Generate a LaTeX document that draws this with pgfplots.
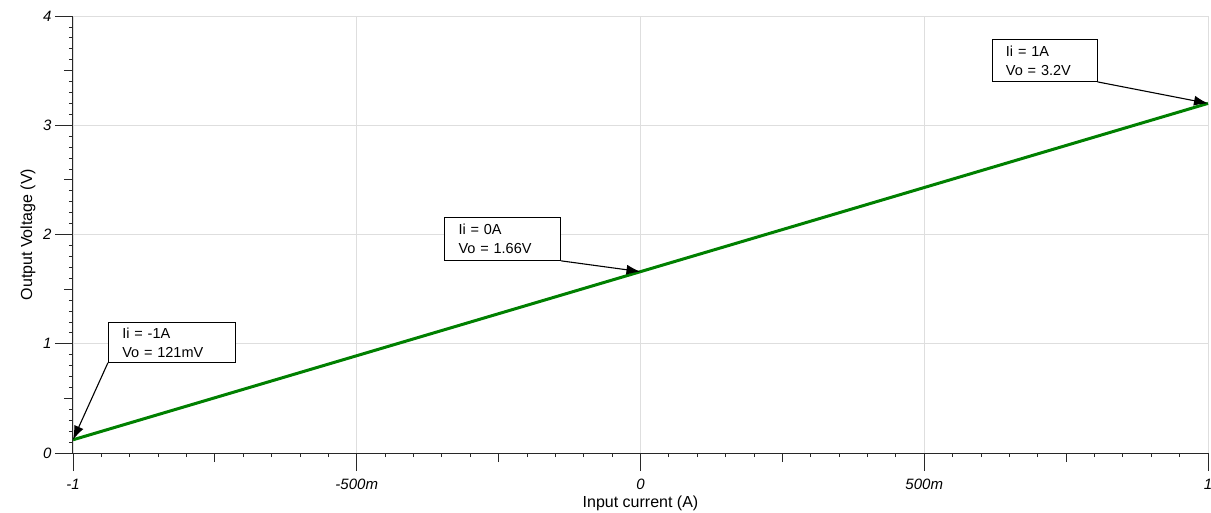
\documentclass[border=0pt]{standalone}
\usepackage{fontspec}
\setmainfont{Liberation Sans}
\usepackage{pgfplots}
\pgfplotsset{compat=1.18}
\usetikzlibrary{calc,arrows.meta}
\definecolor{linegreen}{RGB}{0,128,0}
\definecolor{gridgray}{RGB}{222,222,222}
\definecolor{axisgray}{RGB}{40,40,40}
\begin{document}
\begin{tikzpicture}
\begin{axis}[
  name=ax,
  scale only axis,
  width=1135pt, height=437pt,
  xmin=-1, xmax=1, ymin=0, ymax=4,
  axis lines=left,
  axis line style={-, axisgray, line width=1pt},
  xtick={-1,-0.5,0,0.5,1},
  xticklabels={-1,-500m,0,500m,1},
  ytick={0,1,2,3,4},
  yticklabels={0,1,2,3,4},
  minor x tick num=9,
  minor y tick num=9,
  tick align=outside,
  tick pos=left,
  major tick length=18pt,
  minor tick length=4pt,
  tick style={axisgray, line width=0.9pt},
  minor tick style={axisgray, line width=0.8pt},
  extra x ticks={-0.75,-0.25,0.25,0.75},
  extra y ticks={0.5,1.5,2.5,3.5},
  extra x tick labels={},
  extra y tick labels={},
  extra tick style={grid=none, /pgfplots/major tick length=9pt},
  grid=major,
  major grid style={gridgray, line width=0.7pt},
  ticklabel style={font=\fontsize{15}{17}\selectfont\itshape},
  xticklabel style={anchor=center, yshift=-13pt},
  yticklabel style={anchor=east},
  xlabel={Input current (A)},
  ylabel={Output Voltage (V)},
  label style={font=\fontsize{16}{18}\selectfont},
  xlabel style={at={(axis description cs:0.5,-0.1144)}, anchor=center},
  ylabel style={at={(axis description cs:-0.0396,0.5)}, anchor=center},
  clip=false,
]
\addplot[linegreen, line width=3pt] coordinates {(-1,0.121) (0,1.66) (1,3.2)};

\node[draw=black, line width=0.8pt, fill=white, anchor=north west, text width=99pt, inner xsep=14pt, minimum height=40pt, align=left, font=\fontsize{14.5}{19}\selectfont] (b1) at (axis cs:-0.9385,1.199) {Ii = -1A\\Vo = 121mV};
\node[draw=black, line width=0.8pt, fill=white, anchor=north west, text width=88pt, inner xsep=14pt, minimum height=43pt, align=left, font=\fontsize{14.5}{19}\selectfont] (b2) at (axis cs:-0.346,2.160) {Ii = 0A\\Vo = 1.66V};
\node[draw=black, line width=0.8pt, fill=white, anchor=north west, text width=77pt, inner xsep=14pt, minimum height=42pt, align=left, font=\fontsize{14.5}{19}\selectfont] (b3) at (axis cs:0.6186,3.789) {Ii = 1A\\Vo = 3.2V};

\draw[black, line width=1.1pt, -{Latex[length=14pt,width=10pt]}] (b1.south west) -- (axis cs:-1,0.121);
\draw[black, line width=1.1pt, -{Latex[length=14pt,width=10pt]}] (b2.south east) -- (axis cs:0,1.66);
\draw[black, line width=1.1pt, -{Latex[length=14pt,width=10pt]}] (b3.south east) -- (axis cs:1,3.2);
\end{axis}
\pgfresetboundingbox
\path ($(ax.south west)+(-73pt,-59pt)$) rectangle ($(ax.north east)+(3pt,16pt)$);
\end{tikzpicture}
\end{document}
